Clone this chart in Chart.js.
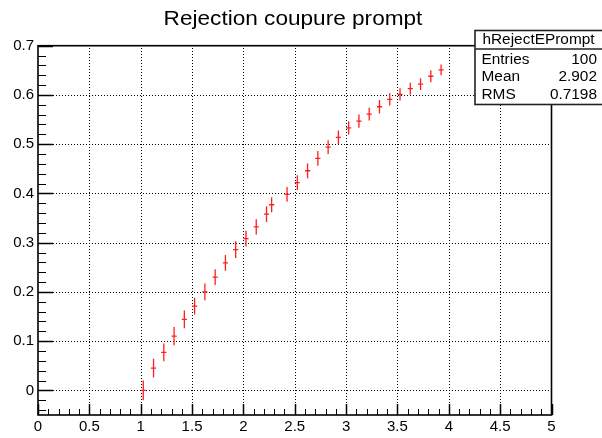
<!DOCTYPE html>
<html>
<head>
<meta charset="utf-8">
<script src="https://cdn.jsdelivr.net/npm/chart.js@4.4.1/dist/chart.umd.min.js"></script>
<style>
  html, body { margin: 0; padding: 0; background: #fff; }
  canvas { display: block; }
</style>
</head>
<body>
<canvas id="c" width="602" height="438"></canvas>
<script>
// ---- data ----
const chartTitle = 'Rejection coupure prompt';
const binCenters = [1.025, 1.125, 1.225, 1.325, 1.425, 1.525, 1.625, 1.725, 1.825, 1.925,
                    2.025, 2.125, 2.225, 2.275, 2.425, 2.525, 2.625, 2.725, 2.825, 2.925,
                    3.025, 3.125, 3.225, 3.325, 3.425, 3.525, 3.625, 3.725, 3.825, 3.925];
const binContents = [0.000, 0.045, 0.077, 0.110, 0.144, 0.171, 0.200, 0.230, 0.259, 0.286,
                     0.308, 0.332, 0.358, 0.377, 0.398, 0.422, 0.446, 0.471, 0.494, 0.514,
                     0.533, 0.547, 0.561, 0.576, 0.591, 0.601, 0.613, 0.622, 0.638, 0.651];
const binErrors = [0.020, 0.019, 0.018, 0.0185, 0.018, 0.017, 0.017, 0.016, 0.016, 0.017,
                   0.016, 0.0155, 0.016, 0.015, 0.015, 0.015, 0.015, 0.015, 0.014, 0.014,
                   0.0135, 0.0135, 0.013, 0.0135, 0.0125, 0.0125, 0.012, 0.012, 0.012, 0.011];
const binHalfWidth = 0.025;
const xTickValues = [0, 0.5, 1, 1.5, 2, 2.5, 3, 3.5, 4, 4.5, 5];
const yTickValues = [0, 0.1, 0.2, 0.3, 0.4, 0.5, 0.6, 0.7];
const xRange = [0, 5];
const yRange = [-0.05, 0.7];
const xMinorStep = 0.1;
const yMinorStep = 0.02;
const statsName = 'hRejectEPrompt';
const statsLabels = ['Entries', 'Mean', 'RMS'];
const statsValues = ['100', '2.902', '0.7198'];

const FONT = '"Liberation Sans", Arial, Helvetica, sans-serif';

const rootPlugin = {
  id: 'rootStyle',
  beforeDatasetsDraw(chart) {
    const { ctx, chartArea: a, scales: { x, y } } = chart;
    ctx.save();
    // dotted grid at major ticks
    ctx.strokeStyle = '#000';
    ctx.lineWidth = 1;
    ctx.setLineDash([1, 2]);
    xTickValues.forEach(v => {
      const px = Math.round(x.getPixelForValue(v)) + 0.5;
      if (Math.abs(px - a.left) < 2 || Math.abs(px - a.right) < 2) return;
      ctx.beginPath(); ctx.moveTo(px, a.bottom); ctx.lineTo(px, a.top); ctx.stroke();
    });
    yTickValues.forEach(v => {
      const py = Math.round(y.getPixelForValue(v)) + 0.5;
      if (Math.abs(py - a.top) < 2 || Math.abs(py - a.bottom) < 2) return;
      ctx.beginPath(); ctx.moveTo(a.left, py); ctx.lineTo(a.right, py); ctx.stroke();
    });
    ctx.setLineDash([]);
    // minor ticks
    ctx.lineWidth = 1;
    for (let v = xRange[0]; v <= xRange[1] + 1e-9; v += xMinorStep) {
      const px = Math.round(x.getPixelForValue(v)) + 0.5;
      ctx.beginPath(); ctx.moveTo(px, a.bottom); ctx.lineTo(px, a.bottom - 6); ctx.stroke();
    }
    for (let v = Math.ceil(yRange[0] / yMinorStep) * yMinorStep; v <= yRange[1] + 1e-9; v += yMinorStep) {
      const py = Math.round(y.getPixelForValue(v)) + 0.5;
      ctx.beginPath(); ctx.moveTo(a.left, py); ctx.lineTo(a.left + 8, py); ctx.stroke();
    }
    // major ticks
    ctx.lineWidth = 1.5;
    xTickValues.forEach(v => {
      const px = Math.round(x.getPixelForValue(v)) + 0.5;
      ctx.beginPath(); ctx.moveTo(px, a.bottom); ctx.lineTo(px, a.bottom - 11); ctx.stroke();
    });
    yTickValues.forEach(v => {
      const py = Math.round(y.getPixelForValue(v)) + 0.5;
      ctx.beginPath(); ctx.moveTo(a.left, py); ctx.lineTo(a.left + 15, py); ctx.stroke();
    });
    // frame
    ctx.lineWidth = 1.6;
    ctx.strokeRect(a.left, a.top, a.right - a.left, a.bottom - a.top);
    ctx.restore();
  },
  afterDatasetsDraw(chart) {
    const { ctx, scales: { x, y } } = chart;
    ctx.save();
    ctx.strokeStyle = 'rgb(255,30,30)';
    ctx.lineWidth = 1.3;
    binCenters.forEach((xc, i) => {
      const px = x.getPixelForValue(xc);
      const py = y.getPixelForValue(binContents[i]);
      const x0 = x.getPixelForValue(xc - binHalfWidth);
      const x1 = x.getPixelForValue(xc + binHalfWidth);
      const y0 = y.getPixelForValue(binContents[i] - binErrors[i]);
      const y1 = y.getPixelForValue(binContents[i] + binErrors[i]);
      ctx.beginPath();
      ctx.moveTo(x0, py); ctx.lineTo(x1, py);
      ctx.moveTo(px, y0); ctx.lineTo(px, y1);
      ctx.stroke();
    });
    ctx.restore();
  },
  afterDraw(chart) {
    const { ctx } = chart;
    ctx.save();
    // title
    ctx.fillStyle = '#000';
    ctx.font = '20px ' + FONT;
    ctx.textBaseline = 'alphabetic';
    ctx.textAlign = 'center';
    ctx.translate(293, 25);
    ctx.scale(1.13, 1);
    ctx.fillText(chartTitle, 0, 0);
    ctx.restore();

    // stats box
    ctx.save();
    const bx = 475, by = 30.5, bw = 140, bh = 74;
    ctx.fillStyle = '#fff';
    ctx.fillRect(bx, by, bw, bh);
    ctx.strokeStyle = '#222';
    ctx.lineWidth = 1.6;
    ctx.strokeRect(bx, by, bw, bh);
    ctx.beginPath(); ctx.moveTo(bx, 49); ctx.lineTo(bx + bw, 49); ctx.stroke();
    ctx.fillStyle = '#000';
    ctx.font = '14px ' + FONT;
    ctx.textBaseline = 'middle';
    const drawStretched = (t, tx, ty, align) => {
      ctx.save(); ctx.translate(tx, ty); ctx.scale(1.1, 1);
      ctx.textAlign = align; ctx.fillText(t, 0, 0); ctx.restore();
    };
    drawStretched(statsName, 538.5, 40, 'center');
    const rowsY = [59.8, 77.5, 95.5];
    statsLabels.forEach((lab, i) => {
      drawStretched(lab, 481.5, rowsY[i], 'left');
      drawStretched(statsValues[i], 597, rowsY[i], 'right');
    });
    ctx.restore();
  }
};

new Chart(document.getElementById('c'), {
  type: 'scatter',
  data: {
    datasets: [{
      data: binCenters.map((xc, i) => ({ x: xc, y: binContents[i] })),
      pointRadius: 0,
      showLine: false,
      borderColor: 'red',
      backgroundColor: 'red'
    }]
  },
  options: {
    responsive: false,
    animation: false,
    layout: { padding: { left: 0, top: 45.7, right: 50.5, bottom: 0 } },
    plugins: {
      legend: { display: false },
      tooltip: { enabled: false },
      title: { display: false }
    },
    scales: {
      x: {
        type: 'linear',
        min: xRange[0], max: xRange[1],
        afterBuildTicks: s => { s.ticks = xTickValues.map(v => ({ value: v })); },
        afterFit: s => { s.height = 23; },
        grid: { display: false, drawTicks: false },
        border: { display: false },
        ticks: {
          color: '#000', font: { family: FONT, size: 15 }, padding: 3,
          maxRotation: 0, autoSkip: false, callback: v => String(v)
        }
      },
      y: {
        type: 'linear',
        min: yRange[0], max: yRange[1],
        afterBuildTicks: s => { s.ticks = yTickValues.map(v => ({ value: v })); },
        afterFit: s => { s.width = 38; },
        grid: { display: false, drawTicks: false },
        border: { display: false },
        ticks: {
          color: '#000', font: { family: FONT, size: 15 }, padding: 4,
          autoSkip: false, callback: v => String(v)
        }
      }
    }
  },
  plugins: [rootPlugin]
});
</script>
</body>
</html>
